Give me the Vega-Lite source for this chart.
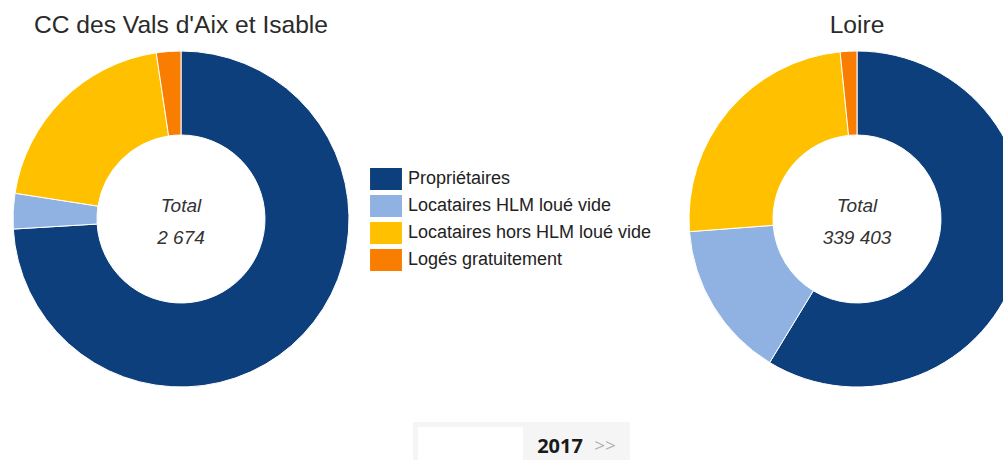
{
  "$schema": "https://vega.github.io/schema/vega-lite/v6.json",
  "width": 1003,
  "height": 460,
  "autosize": {"type": "fit", "contains": "padding"},
  "padding": 0,
  "background": "white",
  "config": {
    "view": {"stroke": null},
    "locale": {"number": {"decimal": ",", "thousands": " ", "grouping": [3], "currency": ["", " €"]}}
  },
  "datasets": {
    "logements": [
      {"region": "CC des Vals d'Aix et Isable", "categorie": "Propriétaires", "valeur": 1980},
      {"region": "CC des Vals d'Aix et Isable", "categorie": "Locataires HLM loué vide", "valeur": 91},
      {"region": "CC des Vals d'Aix et Isable", "categorie": "Locataires hors HLM loué vide", "valeur": 540},
      {"region": "CC des Vals d'Aix et Isable", "categorie": "Logés gratuitement", "valeur": 63},
      {"region": "Loire", "categorie": "Propriétaires", "valeur": 199230},
      {"region": "Loire", "categorie": "Locataires HLM loué vide", "valeur": 51250},
      {"region": "Loire", "categorie": "Locataires hors HLM loué vide", "valeur": 83490},
      {"region": "Loire", "categorie": "Logés gratuitement", "valeur": 5433}
    ],
    "periode": [{"annee": "2017"}]
  },
  "layer": [
    {
      "data": {"name": "logements"},
      "encoding": {
        "x": {"field": "region", "type": "nominal", "scale": {"type": "point", "domain": ["CC des Vals d'Aix et Isable", "Loire"], "range": [181, 857], "padding": 0}, "axis": null},
        "y": {"field": "region", "type": "nominal", "scale": {"type": "point", "range": [219, 219], "padding": 0}, "axis": null}
      },
      "layer": [
        {
          "transform": [{"stack": "valeur", "groupby": ["region"], "offset": "normalize", "as": ["debut", "fin"]}],
          "mark": {"type": "arc", "radius": 168, "radius2": 84, "stroke": "white", "strokeWidth": 1},
          "encoding": {
            "theta": {"field": "debut", "type": "quantitative", "scale": {"domain": [0, 1]}},
            "theta2": {"field": "fin"},
            "color": {
              "field": "categorie",
              "type": "nominal",
              "scale": {
                "domain": ["Propriétaires", "Locataires HLM loué vide", "Locataires hors HLM loué vide", "Logés gratuitement"],
                "range": ["#0c3f7c", "#8fb2e2", "#ffc000", "#f97d00"]
              },
              "legend": {
                "title": null,
                "orient": "none",
                "legendX": 375,
                "legendY": 168,
                "symbolType": "M-1.45,-1H1.45V1H-1.45Z",
                "symbolSize": 484,
                "symbolStrokeWidth": 0,
                "symbolOpacity": 1,
                "labelFontSize": 18,
                "labelFont": "Liberation Sans",
                "labelColor": "#222222",
                "labelOffset": 11,
                "labelLimit": 400,
                "rowPadding": 5,
                "padding": 0
              }
            }
          }
        },
        {
          "transform": [{"aggregate": [{"op": "sum", "field": "valeur", "as": "total"}], "groupby": ["region"]}],
          "layer": [
            {
              "mark": {"type": "text", "dy": -186, "baseline": "alphabetic", "align": "center", "font": "Liberation Sans", "fontSize": 24.6, "color": "#2a2a2a"},
              "encoding": {"text": {"field": "region", "type": "nominal"}}
            },
            {
              "mark": {"type": "text", "text": "Total", "dy": -7, "baseline": "alphabetic", "align": "center", "font": "Liberation Sans", "fontSize": 19, "fontStyle": "italic", "color": "#333333"},
              "encoding": {}
            },
            {
              "mark": {"type": "text", "dy": 25, "baseline": "alphabetic", "align": "center", "font": "Liberation Sans", "fontSize": 19, "fontStyle": "italic", "color": "#333333"},
              "encoding": {"text": {"field": "total", "type": "quantitative", "format": ",d"}}
            }
          ]
        }
      ]
    },
    {
      "data": {"name": "periode"},
      "encoding": {
        "x": {"field": "annee", "type": "nominal", "scale": {"type": "point", "range": [560, 560], "padding": 0}, "axis": null},
        "y": {"field": "annee", "type": "nominal", "scale": {"type": "point", "range": [453, 453], "padding": 0}, "axis": null}
      },
      "layer": [
        {
          "mark": {"type": "rect", "width": 217, "height": 62, "xOffset": -38.5, "color": "#f5f5f5"},
          "encoding": {}
        },
        {
          "mark": {"type": "rect", "width": 105, "height": 66, "xOffset": -89.5, "yOffset": 7, "color": "#ffffff"},
          "encoding": {}
        },
        {
          "mark": {"type": "text", "baseline": "alphabetic", "align": "center", "font": "Open Sans", "fontWeight": "bold", "fontSize": 20, "color": "#1a1a1a"},
          "encoding": {"text": {"field": "annee", "type": "nominal"}}
        },
        {
          "mark": {"type": "text", "text": ">>", "dx": 45, "dy": -1, "baseline": "alphabetic", "align": "center", "font": "Open Sans", "fontSize": 19, "color": "#b0b0b0"},
          "encoding": {}
        }
      ]
    }
  ],
  "resolve": {"scale": {"x": "independent", "y": "independent"}}
}
